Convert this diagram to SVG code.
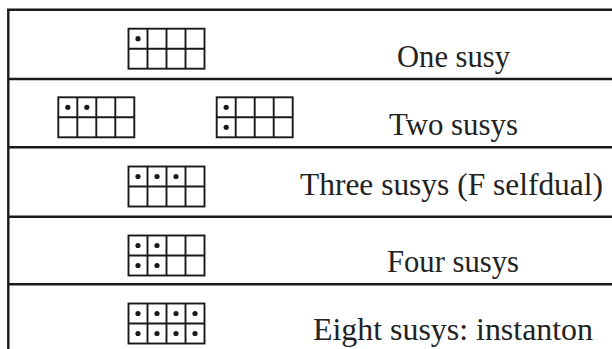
<svg xmlns="http://www.w3.org/2000/svg" xmlns:xlink="http://www.w3.org/1999/xlink" width="612" height="349" viewBox="0 0 612 349">
<style>
.rule{stroke:#1a1a1a;stroke-width:2.4;fill:none}
.g{stroke:#1a1a1a;stroke-width:1.9;fill:#fff}
.d{fill:#1a1a1a}
text{font-family:'Liberation Serif','Times New Roman',serif;font-size:31px;fill:#222;text-anchor:middle}
</style>
<defs>
<g id="grid">
<rect class="g" x="0" y="0" width="76" height="40"/>
<path class="g" d="M19 0V40M38 0V40M57 0V40M0 20H76"/>
</g>
<circle id="dot" class="d" r="2.6"/>
</defs>
<g id="connectors">
<path class="rule" d="M7 9.7H612M8 79H612M8 147.3H612M8 216.7H612M8 284.3H612"/>
<path class="rule" d="M8.3 10V349"/>
</g>
<g id="row1">
<use xlink:href="#grid" x="128.5" y="28.7"/>
<use xlink:href="#dot" x="138" y="38.7"/>
<text x="453.5" y="66.7" textLength="113" lengthAdjust="spacingAndGlyphs">One susy</text>
</g>
<g id="row2">
<use xlink:href="#grid" x="58.3" y="97.3"/>
<use xlink:href="#dot" x="67.8" y="107.3"/>
<use xlink:href="#dot" x="86.8" y="107.3"/>
<use xlink:href="#grid" x="216.7" y="97.3"/>
<use xlink:href="#dot" x="226.2" y="107.3"/>
<use xlink:href="#dot" x="226.2" y="127.3"/>
<text x="453.5" y="135" textLength="129" lengthAdjust="spacingAndGlyphs">Two susys</text>
</g>
<g id="row3">
<use xlink:href="#grid" x="128.5" y="166.5"/>
<use xlink:href="#dot" x="138" y="176.5"/>
<use xlink:href="#dot" x="157" y="176.5"/>
<use xlink:href="#dot" x="176" y="176.5"/>
<text x="451.5" y="195" textLength="303" lengthAdjust="spacingAndGlyphs">Three susys (F selfdual)</text>
</g>
<g id="row4">
<use xlink:href="#grid" x="128.5" y="235.5"/>
<use xlink:href="#dot" x="138" y="245.5"/>
<use xlink:href="#dot" x="157" y="245.5"/>
<use xlink:href="#dot" x="138" y="265.5"/>
<use xlink:href="#dot" x="157" y="265.5"/>
<text x="453" y="271.7" textLength="132" lengthAdjust="spacingAndGlyphs">Four susys</text>
</g>
<g id="row5">
<use xlink:href="#grid" x="128.5" y="303.5"/>
<use xlink:href="#dot" x="138" y="313.5"/>
<use xlink:href="#dot" x="157" y="313.5"/>
<use xlink:href="#dot" x="176" y="313.5"/>
<use xlink:href="#dot" x="195" y="313.5"/>
<use xlink:href="#dot" x="138" y="333.5"/>
<use xlink:href="#dot" x="157" y="333.5"/>
<use xlink:href="#dot" x="176" y="333.5"/>
<use xlink:href="#dot" x="195" y="333.5"/>
<text x="453" y="340" textLength="280" lengthAdjust="spacingAndGlyphs">Eight susys: instanton</text>
</g>
</svg>
